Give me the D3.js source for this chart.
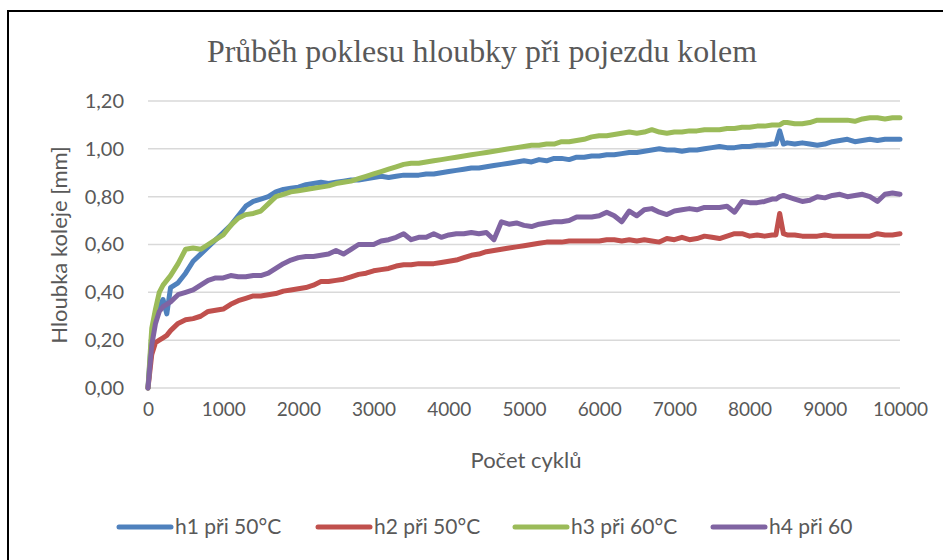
<!DOCTYPE html>
<html>
<head>
<meta charset="utf-8">
<script src="https://cdn.jsdelivr.net/npm/d3@7/dist/d3.min.js"></script>
<style>
  body { margin: 0; background: #fff; }
  svg text { font-family: Lato, "Open Sans", sans-serif; fill: #595959; }
</style>
</head>
<body>
<div id="chart"></div>
<script>
// počet cyklů (x values shared by every series)
var cycles = [0, 50, 100, 150, 200, 250, 300,
  400, 500, 600, 700, 800, 900, 1000, 1100, 1200, 1300, 1400, 1500, 1600, 1700, 1800, 1900,
  2000, 2100, 2200, 2300, 2400, 2500, 2600, 2700, 2800, 2900,
  3000, 3100, 3200, 3300, 3400, 3500, 3600, 3700, 3800, 3900,
  4000, 4100, 4200, 4300, 4400, 4500, 4600, 4700, 4800, 4900,
  5000, 5100, 5200, 5300, 5400, 5500, 5600, 5700, 5800, 5900,
  6000, 6100, 6200, 6300, 6400, 6500, 6600, 6700, 6800, 6900,
  7000, 7100, 7200, 7300, 7400, 7500, 7600, 7700, 7800, 7900,
  8000, 8100, 8200, 8300, 8350, 8400, 8450, 8500, 8600, 8700, 8800, 8900,
  9000, 9100, 9200, 9300, 9400, 9500, 9600, 9700, 9800, 9900, 10000];

var h1 = [0, 0.22, 0.29, 0.34, 0.37, 0.31, 0.42,
  0.44, 0.48, 0.53, 0.56, 0.59, 0.62, 0.65, 0.68, 0.72, 0.76, 0.78, 0.79, 0.80, 0.82, 0.83, 0.835,
  0.84, 0.85, 0.855, 0.86, 0.855, 0.86, 0.865, 0.87, 0.87, 0.875,
  0.88, 0.885, 0.88, 0.885, 0.89, 0.89, 0.89, 0.895, 0.895, 0.90,
  0.905, 0.91, 0.915, 0.92, 0.92, 0.925, 0.93, 0.935, 0.94, 0.945,
  0.95, 0.945, 0.955, 0.95, 0.96, 0.96, 0.955, 0.965, 0.965, 0.97,
  0.97, 0.975, 0.975, 0.98, 0.985, 0.985, 0.99, 0.995, 1.00, 0.995,
  0.995, 0.99, 0.995, 0.995, 1.00, 1.005, 1.01, 1.005, 1.005, 1.01,
  1.01, 1.015, 1.015, 1.02, 1.02, 1.075, 1.02, 1.025, 1.02, 1.025, 1.02, 1.015,
  1.02, 1.03, 1.035, 1.04, 1.03, 1.035, 1.04, 1.035, 1.04, 1.04, 1.04];

var h2 = [0, 0.14, 0.19, 0.20, 0.21, 0.22, 0.24,
  0.27, 0.285, 0.29, 0.30, 0.32, 0.325, 0.33, 0.35, 0.365, 0.375, 0.385, 0.385, 0.39, 0.395, 0.405, 0.41,
  0.415, 0.42, 0.43, 0.445, 0.445, 0.45, 0.455, 0.465, 0.475, 0.48,
  0.49, 0.495, 0.50, 0.51, 0.515, 0.515, 0.52, 0.52, 0.52, 0.525,
  0.53, 0.535, 0.545, 0.555, 0.56, 0.57, 0.575, 0.58, 0.585, 0.59,
  0.595, 0.60, 0.605, 0.61, 0.61, 0.61, 0.615, 0.615, 0.615, 0.615,
  0.615, 0.62, 0.62, 0.615, 0.62, 0.615, 0.62, 0.615, 0.61, 0.625,
  0.62, 0.63, 0.62, 0.625, 0.635, 0.63, 0.625, 0.635, 0.645, 0.645,
  0.635, 0.64, 0.635, 0.64, 0.64, 0.73, 0.645, 0.64, 0.64, 0.635, 0.635, 0.635,
  0.64, 0.635, 0.635, 0.635, 0.635, 0.635, 0.635, 0.645, 0.64, 0.64, 0.645];

var h3 = [0, 0.25, 0.33, 0.40, 0.43, 0.45, 0.47,
  0.52, 0.58, 0.585, 0.58, 0.60, 0.62, 0.64, 0.68, 0.71, 0.725, 0.73, 0.74, 0.77, 0.80, 0.81, 0.82,
  0.825, 0.83, 0.835, 0.84, 0.845, 0.855, 0.86, 0.865, 0.875, 0.885,
  0.895, 0.905, 0.915, 0.925, 0.935, 0.94, 0.94, 0.945, 0.95, 0.955,
  0.96, 0.965, 0.97, 0.975, 0.98, 0.985, 0.99, 0.995, 1.00, 1.005,
  1.01, 1.015, 1.015, 1.02, 1.02, 1.03, 1.03, 1.035, 1.04, 1.05,
  1.055, 1.055, 1.06, 1.065, 1.07, 1.065, 1.07, 1.08, 1.07, 1.065,
  1.07, 1.07, 1.075, 1.075, 1.08, 1.08, 1.08, 1.085, 1.085, 1.09,
  1.09, 1.095, 1.095, 1.10, 1.10, 1.10, 1.11, 1.11, 1.105, 1.105, 1.11, 1.12,
  1.12, 1.12, 1.12, 1.12, 1.115, 1.125, 1.13, 1.13, 1.125, 1.13, 1.13];

var h4 = [0, 0.18, 0.27, 0.32, 0.34, 0.35, 0.36,
  0.39, 0.40, 0.41, 0.43, 0.45, 0.46, 0.46, 0.47, 0.465, 0.465, 0.47, 0.47, 0.48, 0.50, 0.52, 0.535,
  0.545, 0.55, 0.55, 0.555, 0.56, 0.575, 0.56, 0.58, 0.60, 0.60,
  0.60, 0.615, 0.62, 0.63, 0.645, 0.62, 0.63, 0.63, 0.645, 0.63,
  0.64, 0.645, 0.645, 0.65, 0.645, 0.65, 0.62, 0.695, 0.685, 0.69,
  0.68, 0.675, 0.685, 0.69, 0.695, 0.695, 0.70, 0.715, 0.715, 0.715,
  0.72, 0.735, 0.72, 0.695, 0.74, 0.72, 0.745, 0.75, 0.735, 0.725,
  0.74, 0.745, 0.75, 0.745, 0.755, 0.755, 0.755, 0.76, 0.735, 0.78,
  0.775, 0.775, 0.78, 0.79, 0.79, 0.80, 0.805, 0.80, 0.79, 0.78, 0.785, 0.80,
  0.795, 0.805, 0.81, 0.80, 0.805, 0.81, 0.80, 0.78, 0.81, 0.815, 0.81];

var seriesNames = ["h1 při 50°C", "h2 při 50°C", "h3 při 60°C", "h4 při 60"];
var seriesColors = ["#4F81BD", "#C0504D", "#9BBB59", "#8064A2"];
var yTicks = [0, 0.2, 0.4, 0.6, 0.8, 1.0, 1.2];
var xTicks = [0, 1000, 2000, 3000, 4000, 5000, 6000, 7000, 8000, 9000, 10000];

var W = 943, H = 560;
var plot = {left: 148, right: 900, top: 101, bottom: 388};

var svg = d3.select("#chart").append("svg")
    .attr("width", W)
    .attr("height", H);

// chart frame
svg.append("rect")
    .attr("x", 8).attr("y", 11)
    .attr("width", 945).attr("height", 570)
    .attr("fill", "#fff")
    .attr("stroke", "#000")
    .attr("stroke-width", 2);

var x = d3.scaleLinear().domain([0, 10000]).range([plot.left, plot.right]);
var y = d3.scaleLinear().domain([0, 1.2]).range([plot.bottom, plot.top]);

// gridlines
svg.append("g")
  .selectAll("line")
  .data(yTicks)
  .join("line")
    .attr("x1", plot.left).attr("x2", plot.right)
    .attr("y1", function(d) { return y(d); })
    .attr("y2", function(d) { return y(d); })
    .attr("stroke", "#D9D9D9")
    .attr("stroke-width", 1.5);

// y axis labels
var yAxis = svg.append("g")
    .attr("transform", "translate(" + plot.left + ",0)")
    .call(d3.axisLeft(y).tickValues(yTicks).tickSize(0).tickPadding(24)
      .tickFormat(function(d) { return d3.format(".2f")(d).replace(".", ","); }));
yAxis.select(".domain").remove();
yAxis.selectAll("text").attr("font-size", 20).attr("font-family", "Lato").attr("fill", "#595959");

// x axis labels
var xAxis = svg.append("g")
    .attr("transform", "translate(0," + plot.bottom + ")")
    .call(d3.axisBottom(x).tickValues(xTicks).tickSize(0).tickPadding(15)
      .tickFormat(d3.format("d")));
xAxis.select(".domain").remove();
xAxis.selectAll("text").attr("font-size", 19).attr("font-family", "Lato").attr("fill", "#595959");

// lines
var line = d3.line()
    .x(function(d) { return x(d[0]); })
    .y(function(d) { return y(d[1]); });

[h1, h2, h3, h4].forEach(function(vals, i) {
  svg.append("path")
      .datum(cycles.map(function(c, j) { return [c, vals[j]]; }))
      .attr("fill", "none")
      .attr("stroke", seriesColors[i])
      .attr("stroke-width", 5)
      .attr("stroke-linejoin", "round")
      .attr("stroke-linecap", "round")
      .attr("d", line);
});

// title
svg.append("text")
    .attr("x", 482).attr("y", 62)
    .attr("text-anchor", "middle")
    .style("font-family", "'Liberation Serif', 'Times New Roman', serif")
    .attr("font-size", 32)
    .attr("textLength", 550)
    .attr("lengthAdjust", "spacingAndGlyphs")
    .text("Průběh poklesu hloubky při pojezdu kolem");

// axis titles
svg.append("text")
    .attr("transform", "translate(67,245) rotate(-90)")
    .attr("text-anchor", "middle")
    .attr("font-size", 22)
    .text("Hloubka koleje [mm]");

svg.append("text")
    .attr("x", 526).attr("y", 468)
    .attr("text-anchor", "middle")
    .attr("font-size", 22)
    .text("Počet cyklů");

// legend
var legendX = [117, 316, 513, 711];
var legend = svg.append("g")
  .selectAll("g")
  .data(seriesNames)
  .join("g")
    .attr("transform", function(d, i) { return "translate(" + legendX[i] + ",527)"; });

legend.append("line")
    .attr("x1", 2).attr("x2", 54)
    .attr("stroke", function(d, i) { return seriesColors[i]; })
    .attr("stroke-width", 5)
    .attr("stroke-linecap", "round");

legend.append("text")
    .attr("x", 58).attr("y", 7)
    .attr("font-size", 21)
    .text(function(d) { return d; });
</script>
</body>
</html>
